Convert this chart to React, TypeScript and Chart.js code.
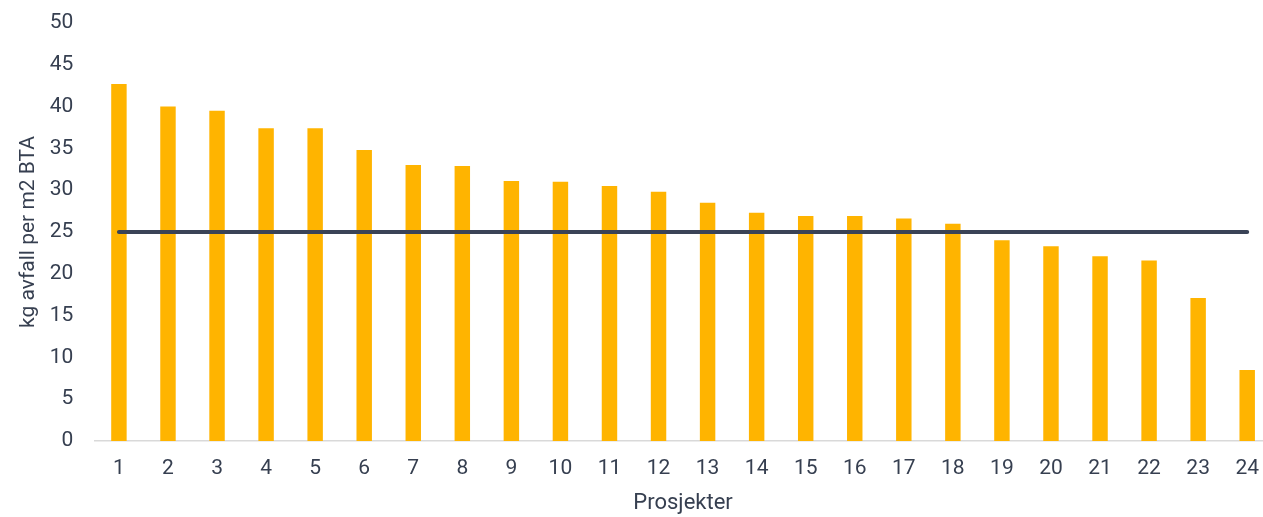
import React, { useEffect, useRef } from "react";
import { Chart, registerables } from "chart.js";

Chart.register(...registerables);

const categories: string[] = Array.from({ length: 24 }, (_, i) => String(i + 1));
const wasteValues: number[] = [
  42.7, 40.0, 39.5, 37.4, 37.4, 34.8, 33.0, 32.9, 31.1, 31.0, 30.5, 29.8,
  28.5, 27.3, 26.9, 26.9, 26.6, 26.0, 24.0, 23.3, 22.1, 21.6, 17.1, 8.5,
];
const targetValues: number[] = Array.from({ length: 24 }, () => 25);
const yTitle = "kg avfall per m2 BTA";
const xTitle = "Prosjekter";

const TEXT = "#363f50";
const FONT = "Roboto";

export default function App() {
  const ref = useRef<HTMLCanvasElement | null>(null);
  useEffect(() => {
    if (!ref.current) return;
    const chart = new Chart(ref.current, {
      type: "bar",
      data: {
        labels: categories,
        datasets: [
          {
            type: "line",
            label: "Mål",
            data: targetValues,
            borderColor: "#3a4357",
            borderWidth: 4,
            pointRadius: 0,
            borderCapStyle: "round",
            order: 0,
          } as any,
          {
            type: "bar",
            label: "Avfall",
            data: wasteValues,
            backgroundColor: "#FFB400",
            categoryPercentage: 1,
            barPercentage: 0.315,
            order: 1,
          },
        ],
      },
      options: {
        animation: false,
        responsive: false,
        devicePixelRatio: 1,
        layout: { padding: { top: 23, left: 0, right: 0, bottom: 0 } },
        plugins: { legend: { display: false }, tooltip: { enabled: false } },
        scales: {
          x: {
            grid: { display: false, drawTicks: false },
            border: { display: true, color: "#d9d9d9", width: 1.5 },
            ticks: { color: TEXT, font: { family: FONT, size: 21 }, padding: 15, maxRotation: 0 },
            title: {
              display: true,
              text: xTitle,
              color: TEXT,
              font: { family: FONT, size: 22 },
              padding: { top: 0, bottom: 0 },
            },
            afterFit: (s: any) => {
              s.height = 76;
            },
          },
          y: {
            min: 0,
            max: 50,
            grid: { display: false, drawTicks: false },
            border: { display: false },
            ticks: { stepSize: 5, color: TEXT, font: { family: FONT, size: 21 }, padding: 21 },
            title: {
              display: true,
              text: yTitle,
              color: TEXT,
              font: { family: FONT, size: 21 },
              padding: { top: 16, bottom: 0 },
            },
            afterFit: (s: any) => {
              s.width = 94.4;
              s.paddingTop = 0;
              s.paddingBottom = 0;
            },
          },
        },
      },
    });
    return () => chart.destroy();
  }, []);

  return (
    <div style={{ position: "absolute", left: 0, top: 0, width: 1263, height: 517, overflow: "hidden", background: "#fff" }}>
      <canvas ref={ref} width={1274} height={517} style={{ display: "block" }} />
    </div>
  );
}
